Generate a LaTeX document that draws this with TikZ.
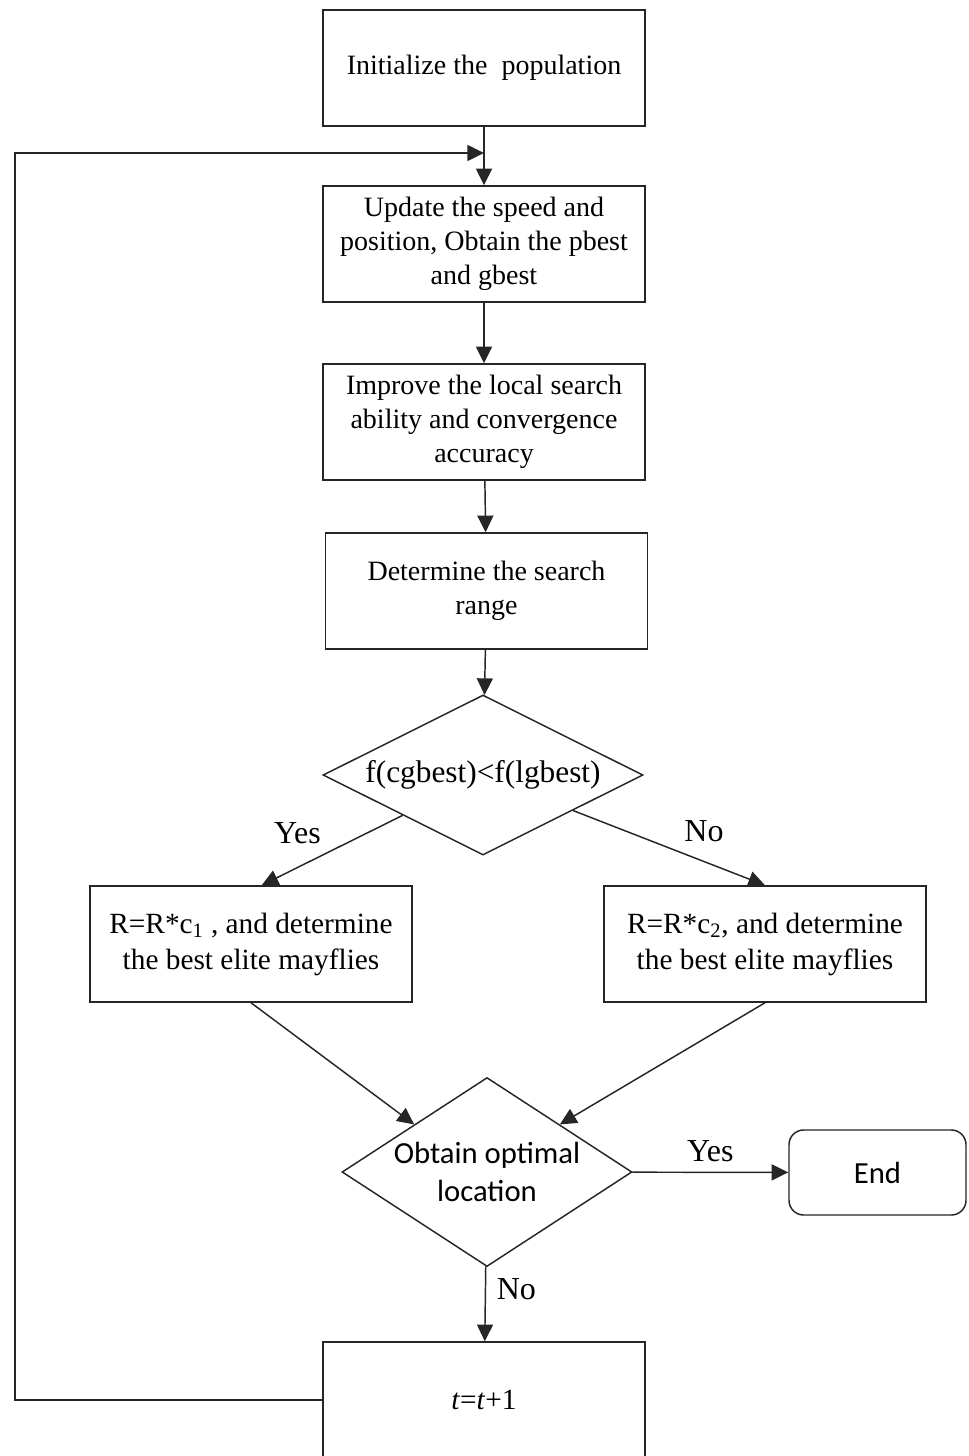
\documentclass[tikz,border=0pt]{standalone}
\usepackage{fontspec}
\setmainfont{Liberation Serif}
\newfontfamily\calfont{Carlito}
\usetikzlibrary{
	arrows.meta,
	calc,
	shapes.geometric,
	positioning
}

\tikzset{
	box/.style={draw=black!85, line width=1.1pt, fill=white, minimum width=241.5pt,
		minimum height=87pt, align=center, inner sep=2pt, font=\fontsize{21}{25.5}\selectfont},
	decide/.style={diamond, draw=black!85, line width=1.1pt, fill=white, inner sep=0pt, align=center},
	endbox/.style={draw=black!85, line width=1.1pt, fill=white, rounded corners=11pt,
		minimum width=132.75pt, minimum height=63.75pt, font=\calfont\fontsize{23}{28}\selectfont},
	arr/.style={-{Triangle[length=12.5pt,width=12pt]}, line width=1.1pt, draw=black!85},
	lbl/.style={font=\fontsize{24}{28}\selectfont, inner sep=3pt}
}

\begin{document}
\begin{tikzpicture}[x=0.75pt,y=-0.75pt]
	\useasboundingbox (0,0) rectangle (969,1456);
	% 流程框
	\node[box] (init) at (484,68) {Initialize the\ \ population};
	\node[box] (update) at (484,244) {Update the speed and\\position, Obtain the pbest\\and gbest};
	\node[box] (improve) at (484,422) {Improve the local search\\ability and convergence\\accuracy};
	\node[box] (range) at (486.5,591) {Determine the search\\range};
	\node[decide, aspect=2, minimum width=240pt, minimum height=120pt,
		font=\fontsize{23.5}{28}\selectfont] (cmp) at (483,775) {f(cgbest)<f(lgbest)};
	\node[box, font=\fontsize{22}{27}\selectfont] (yesbox) at (251,944) {R=R*c\textsubscript{1} , and determine\\the best elite mayflies};
	\node[box, font=\fontsize{22}{27}\selectfont] (nobox) at (765,944) {R=R*c\textsubscript{2}, and determine\\the best elite mayflies};
	\node[decide, aspect=1.53, minimum width=217.5pt, minimum height=141.75pt,
		font=\calfont\fontsize{23}{28}\selectfont] (opt) at (487,1172) {Obtain optimal\\location};
	\node[endbox] (end) at (877.5,1172.5) {End};
	\node[box, font=\fontsize{22}{27}\selectfont] (tbox) at (484,1400) {\textit{t}=\textit{t}+1};
	% 回路坐标
	\coordinate (join) at (484,153);
	\coordinate (corner) at (15,153);
	% 连线
	\draw[arr] (init) -- (update);
	\draw[arr] (update) -- (improve);
	\draw[arr] (improve) -- (range);
	\draw[arr] (range) -- (cmp);
	\draw[arr] (cmp.south west) -- node[lbl, above left, xshift=-5pt, yshift=1pt] {Yes} ([xshift=8pt]yesbox.north);
	\draw[arr] ($(cmp.east)!0.44!(cmp.south)$) -- node[lbl, above right, xshift=8pt, yshift=1pt] {No} (nobox.north);
	\draw[arr] (yesbox.south) -- (opt.north west);
	\draw[arr] (nobox.south) -- (opt.north east);
	\draw[arr] (opt) -- node[lbl, above=4pt] {Yes} (end);
	\draw[arr] (opt) -- node[lbl, right=5pt, pos=0.3] {No} (tbox);
	\draw[arr] (tbox.west) -| (corner) -- (join);
\end{tikzpicture}
\end{document}
